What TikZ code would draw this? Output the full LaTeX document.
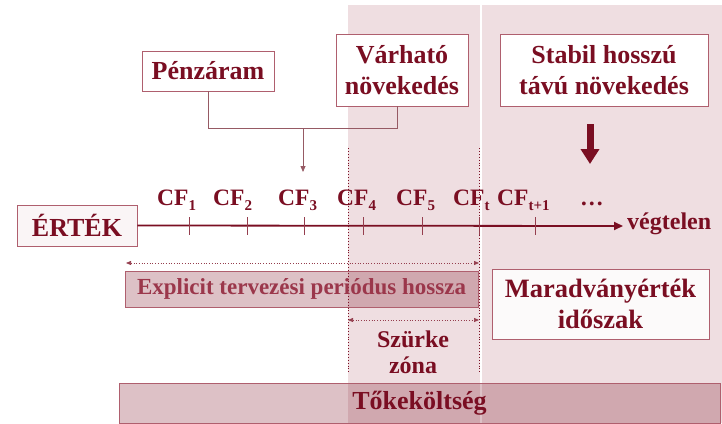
\documentclass[tikz,border=0pt]{standalone}
\usepackage{fontspec}
\setmainfont{Liberation Serif}
\usetikzlibrary{arrows.meta}
\definecolor{maroon}{RGB}{122,14,34}
\definecolor{bgpink}{RGB}{239,222,225}
\definecolor{boxline}{RGB}{175,95,110}
\definecolor{lightmaroon}{RGB}{155,55,75}
\definecolor{connc}{RGB}{150,90,100}
\newcommand{\cfs}[1]{\raisebox{-5pt}{\fontsize{15}{15}\selectfont #1}}
\tikzset{
  lbl/.style={font=\fontsize{26}{31}\selectfont\bfseries, text=maroon, align=center, inner sep=0pt},
  whitebox/.style={lbl, draw=boxline, line width=0.8pt, fill=white},
  cf/.style={font=\fontsize{23.5}{26}\selectfont\bfseries, text=maroon, inner sep=0pt, anchor=base west},
  tick/.style={draw=maroon!80, line width=0.7pt},
  vdot/.style={draw=maroon, dotted, line width=0.9pt},
  hdot/.style={draw=maroon!80, dotted, line width=0.7pt, {Triangle[length=5pt,width=4pt]}-{Triangle[length=5pt,width=4pt]}},
  conn/.style={draw=connc, line width=0.8pt},
  axis/.style={draw=maroon, line width=1.8pt, -{Triangle[length=9pt,width=8pt]}}
}
\begin{document}
\begin{tikzpicture}[x=1pt,y=-1pt]
\useasboundingbox (0,0) rectangle (722,423);
% background shading
\fill[bgpink] (348,5) rectangle (480.2,423);
\fill[bgpink] (481.8,5) rectangle (722,423);
% boxes top
\node[whitebox, minimum width=132pt, minimum height=40pt] (pen) at (208,71) {Pénzáram};
\node[whitebox, minimum width=132pt, minimum height=72pt] (var) at (402,70) {Várható\\növekedés};
\node[whitebox, minimum width=208pt, minimum height=72pt] (stab) at (604,70) {Stabil hosszú\\távú növekedés};
% connector
\coordinate (jl) at (208,128);
\coordinate (jr) at (397,128);
\coordinate (jm) at (303,128);
\coordinate (cfin) at (303,172);
\draw[conn] (pen.south) -- (jl) -- (jr) -- (jr |- var.south);
\draw[conn, -{Triangle[length=6pt,width=5pt]}] (jm) -- (cfin);
% thick arrow
\coordinate (ta) at (590,124);
\coordinate (tb) at (590,164);
\draw[maroon, line width=7pt, -{Triangle[length=15pt,width=18pt]}] (ta) -- (tb);
% dotted verticals
\coordinate (d1t) at (348,148); \coordinate (d1b) at (348,373);
\coordinate (d2t) at (479,148); \coordinate (d2b) at (479,373);
\draw[vdot] (d1t) -- (d1b);
\draw[vdot] (d2t) -- (d2b);
% value box & axis
\node[lbl, draw=boxline, line width=0.8pt, fill=maroon!4, minimum width=120pt, minimum height=41pt] (ert) at (77,225.5) {ÉRTÉK};
\coordinate (inf) at (623,226);
\draw[axis] (ert.east) -- (inf);
\node[font=\fontsize{24}{28}\selectfont\bfseries, text=maroon, inner sep=0pt, anchor=west] (veg) at (627,224) {végtelen};
\foreach \x in {189,247,304,363,422,479,535} \draw[tick] (\x,217) -- (\x,235);
% CF labels
\node[cf] (cf1) at (157,205) {CF\cfs{1}};
\node[cf] (cf2) at (213,205) {CF\cfs{2}};
\node[cf] (cf3) at (278,205) {CF\cfs{3}};
\node[cf] (cf4) at (337,205) {CF\cfs{4}};
\node[cf] (cf5) at (396,205) {CF\cfs{5}};
\node[cf] (cft) at (453,205) {CF\cfs{t}};
\node[cf] (cft1) at (497,205) {CF\cfs{t+1}};
\node[cf] (dots) at (580,205) {\ldots};
% explicit period
\coordinate (e1) at (126,263); \coordinate (e2) at (479,263);
\draw[hdot] (e1) -- (e2);
\node[lbl, font=\fontsize{23}{26}\selectfont\bfseries, text=lightmaroon, draw=boxline, line width=0.8pt, fill=maroon, fill opacity=0.26, text opacity=1, draw opacity=1, minimum width=353pt, minimum height=36pt] (expl) at (301.5,289) {Explicit tervezési periódus hossza};
% grey zone
\coordinate (s1) at (348,320); \coordinate (s2) at (479,320);
\draw[hdot] (s1) -- (s2);
\node[lbl, font=\fontsize{24}{26}\selectfont\bfseries] (szz) at (413,352) {Szürke\\zóna};
% residual
\node[whitebox, fill=white, fill opacity=0.85, text opacity=1, draw opacity=1, minimum width=217pt, minimum height=70pt, font=\fontsize{26.5}{31}\selectfont\bfseries] (mar) at (600.5,304) {Maradványérték\\időszak};
% cost of capital
\node[lbl, draw=boxline, line width=0.8pt, fill=maroon, fill opacity=0.26, text opacity=1, draw opacity=1, minimum width=601pt, minimum height=40pt] (tok) at (419.5,403) {Tőkeköltség};
\end{tikzpicture}
\end{document}
